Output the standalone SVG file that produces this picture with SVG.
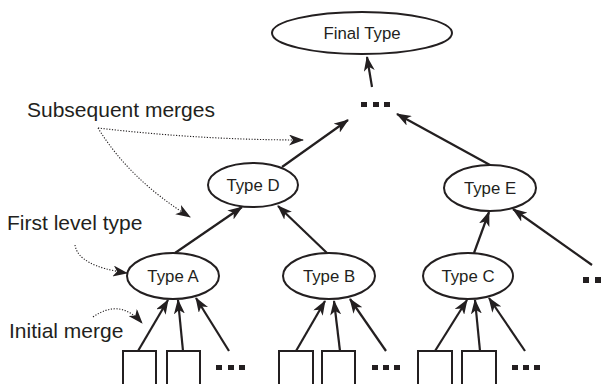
<svg xmlns="http://www.w3.org/2000/svg" width="607" height="384" viewBox="0 0 607 384">
<style>
.node ellipse{fill:#fff;stroke:#231f20;stroke-width:2}
.nt{font-family:"Liberation Sans",Arial,sans-serif;font-size:16.8px;fill:#231f20;text-anchor:middle;dominant-baseline:central}
.lab{font-family:"Liberation Sans",Arial,sans-serif;font-size:21px;fill:#231f20}
.edge{stroke:#231f20;stroke-width:2.2;fill:none;marker-end:url(#ah)}
.dot{stroke:#231f20;stroke-width:1.1;stroke-dasharray:1.2 1.6;fill:none;marker-end:url(#ah2)}
.box{fill:#fff;stroke:#231f20;stroke-width:2}
.d{fill:#231f20}
</style>
<defs>
<marker id="ah" markerUnits="userSpaceOnUse" markerWidth="15" markerHeight="11" viewBox="0 0 15 11" refX="14" refY="5.5" orient="auto">
<path d="M0,0 L15,5.5 L0,11 L4,5.5 z" fill="#231f20"/>
</marker>
<marker id="ah2" markerUnits="userSpaceOnUse" markerWidth="15" markerHeight="11" viewBox="0 0 15 11" refX="14" refY="5.5" orient="auto">
<path d="M0,0 L15,5.5 L0,11 L4,5.5 z" fill="#231f20"/>
</marker>
</defs>
<g id="connectors">
<line class="edge" x1="372" y1="87" x2="367" y2="57"/>
<line class="edge" x1="282" y1="167" x2="348" y2="120"/>
<line class="edge" x1="490" y1="165" x2="397" y2="114"/>
<line class="edge" x1="175" y1="253" x2="242" y2="207"/>
<line class="edge" x1="327" y1="253" x2="278" y2="206"/>
<line class="edge" x1="474" y1="253" x2="489" y2="212"/>
<line class="edge" x1="592" y1="265" x2="513" y2="209"/>
<line class="edge" x1="138" y1="351" x2="168" y2="300"/>
<line class="edge" x1="183" y1="351" x2="178" y2="300"/>
<line class="edge" x1="229" y1="351" x2="196" y2="298"/>
<line class="edge" x1="296" y1="351" x2="325" y2="301"/>
<line class="edge" x1="340" y1="351" x2="334" y2="301"/>
<line class="edge" x1="386" y1="351" x2="350" y2="299"/>
<line class="edge" x1="435" y1="351" x2="467" y2="300"/>
<line class="edge" x1="480" y1="351" x2="475" y2="300"/>
<line class="edge" x1="525" y1="351" x2="489" y2="298"/>
<path class="dot" d="M98,128 Q200,140 303,140"/>
<path class="dot" d="M98,128 Q130,180 190,217"/>
<path class="dot" d="M75,245 Q78,266 127,273"/>
<path class="dot" d="M93,317 Q120,298 142,323"/>
</g>
<g id="final"><g class="node"><ellipse cx="362" cy="33" rx="90" ry="21"/></g><text class="nt" x="362" y="33">Final Type</text></g>
<g id="typeD"><g class="node"><ellipse cx="253" cy="185" rx="45" ry="22"/></g><text class="nt" x="253" y="185">Type D</text></g>
<g id="typeE"><g class="node"><ellipse cx="490" cy="188" rx="46" ry="23"/></g><text class="nt" x="490" y="188">Type E</text></g>
<g id="typeA"><g class="node"><ellipse cx="173" cy="276" rx="46" ry="23"/></g><text class="nt" x="173" y="276">Type A</text></g>
<g id="typeB"><g class="node"><ellipse cx="329" cy="276" rx="46" ry="23"/></g><text class="nt" x="329" y="276">Type B</text></g>
<g id="typeC"><g class="node"><ellipse cx="468" cy="276" rx="45" ry="23"/></g><text class="nt" x="468" y="276">Type C</text></g>
<g id="dotsTop"><rect class="d" x="361" y="102" width="6" height="5"/><rect class="d" x="373" y="102" width="6" height="5"/><rect class="d" x="384" y="102" width="6" height="5"/></g>
<g id="dotsRight"><rect class="d" x="583" y="277" width="6" height="6"/><rect class="d" x="595" y="277" width="6" height="6"/></g>
<g id="leavesA"><rect class="box" x="123" y="351" width="33" height="40"/><rect class="box" x="167" y="351" width="33" height="40"/><rect class="d" x="216" y="365" width="6" height="5"/><rect class="d" x="228" y="365" width="6" height="5"/><rect class="d" x="239" y="365" width="6" height="5"/></g>
<g id="leavesB"><rect class="box" x="279" y="351" width="34" height="40"/><rect class="box" x="322" y="351" width="33" height="40"/><rect class="d" x="372" y="365" width="6" height="5"/><rect class="d" x="383" y="365" width="6" height="5"/><rect class="d" x="394" y="365" width="6" height="5"/></g>
<g id="leavesC"><rect class="box" x="418" y="351" width="34" height="40"/><rect class="box" x="462" y="351" width="34" height="40"/><rect class="d" x="512" y="365" width="6" height="5"/><rect class="d" x="523" y="365" width="6" height="5"/><rect class="d" x="534" y="365" width="6" height="5"/></g>
<g id="labels">
<text class="lab" x="27" y="117">Subsequent merges</text>
<text class="lab" x="7" y="230">First level type</text>
<text class="lab" x="9" y="338">Initial merge</text>
</g>
</svg>
